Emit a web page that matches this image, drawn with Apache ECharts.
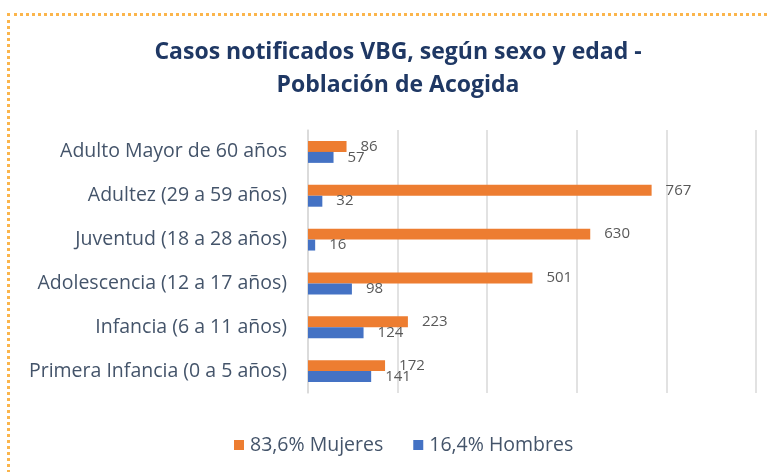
<!DOCTYPE html>
<html>
<head>
<meta charset="utf-8">
<script src="https://cdn.jsdelivr.net/npm/echarts@6/dist/echarts.min.js"></script>
<style>
  html, body { margin: 0; padding: 0; background: #fff; }
  .frame {
    position: absolute;
    left: 7px;
    top: 13px;
    width: 770px;
    height: 470px;
    border-top: 3px dotted #fbb54c;
    border-left: 3px dotted #fbb54c;
  }
  #chart { position: absolute; left: 0; top: 0; width: 770px; height: 472px; }
</style>
</head>
<body>
<div class="frame"></div>
<div id="chart"></div>
<script>
const categories = [
  'Adulto Mayor de 60 años',
  'Adultez (29 a 59 años)',
  'Juventud (18 a 28 años)',
  'Adolescencia (12 a 17 años)',
  'Infancia (6 a 11 años)',
  'Primera Infancia (0 a 5 años)'
]
const mujeres = [86, 767, 630, 501, 223, 172]
const hombres = [57, 32, 16, 98, 124, 141]
const seriesNames = ['83,6% Mujeres', '16,4% Hombres']

const chart = echarts.init(document.getElementById('chart'))

const labelStyle = {
  show: true,
  position: 'right',
  distance: 14,
  color: '#595959',
  fontSize: 15,
  fontFamily: 'Open Sans'
}

chart.setOption({
  animation: false,
  title: {
    text: 'Casos notificados VBG, según sexo y edad -\nPoblación de Acogida',
    left: 393,
    top: 31,
    textAlign: 'center',
    textStyle: {
      fontFamily: 'Open Sans',
      fontSize: 23,
      fontWeight: 'bold',
      color: '#1f3864',
      lineHeight: 33
    }
  },
  legend: {
    data: seriesNames,
    left: 229,
    top: 430,
    itemWidth: 10,
    itemHeight: 10,
    itemGap: 30,
    icon: 'rect',
    textStyle: { fontFamily: 'Open Sans', fontSize: 19.5, color: '#44546a', padding: [0, 0, 0, 1] }
  },
  grid: { left: 308, right: 14, top: 130, bottom: 79, containLabel: false },
  xAxis: {
    type: 'value',
    min: 0,
    max: 1000,
    interval: 200,
    axisLabel: { show: false },
    axisLine: { show: false },
    axisTick: { show: false },
    splitLine: { lineStyle: { color: '#d9d9d9', width: 1.5 } }
  },
  yAxis: {
    type: 'category',
    data: categories,
    inverse: true,
    axisTick: { show: false },
    axisLine: { lineStyle: { color: '#d9d9d9', width: 1.5 } },
    axisLabel: { margin: 21, color: '#44546a', fontSize: 19.5, fontFamily: 'Open Sans' }
  },
  series: [
    {
      name: seriesNames[0],
      type: 'bar',
      data: mujeres,
      barGap: '0%',
      barCategoryGap: '50%',
      itemStyle: { color: '#ed7d31' },
      label: labelStyle
    },
    {
      name: seriesNames[1],
      type: 'bar',
      data: hombres,
      itemStyle: { color: '#4472c4' },
      label: labelStyle
    }
  ]
})
</script>
</body>
</html>
